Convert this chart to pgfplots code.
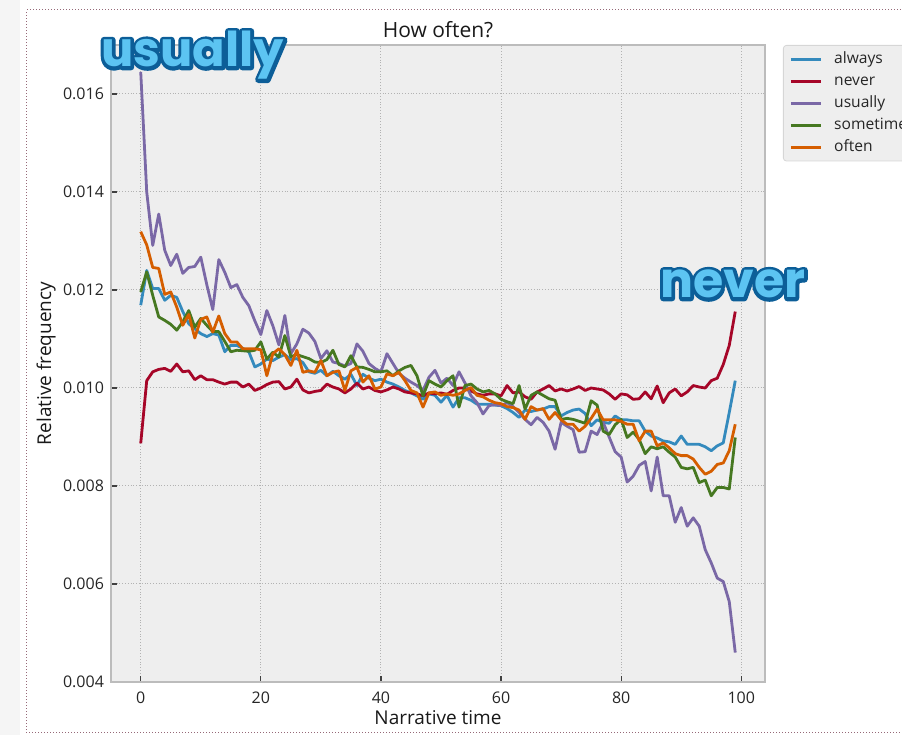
\documentclass[border=0pt]{standalone}
\usepackage{fontspec}
\setmainfont{Open Sans}
\newfontfamily\annfont{Poppins}
\usepackage{pgfplots}
\usepackage{pgfplotstable}
\pgfplotsset{compat=1.18}

% bmh palette
\definecolor{bmhblue}{HTML}{348ABD}
\definecolor{bmhred}{HTML}{A60628}
\definecolor{bmhpurple}{HTML}{7A68A6}
\definecolor{bmhgreen}{HTML}{467821}
\definecolor{bmhorange}{HTML}{D55E00}
\definecolor{bmhbg}{HTML}{EEEEEE}
\definecolor{bmhedge}{HTML}{BCBCBC}
\definecolor{bmhgrid}{HTML}{B2B2B2}
\definecolor{legbg}{HTML}{EEEEEE}
\definecolor{legedge}{HTML}{D6D6D6}
\definecolor{anndark}{RGB}{12,94,152}
\definecolor{annlight}{RGB}{92,196,242}
\definecolor{cellborder}{RGB}{150,105,120}

% outlined word: a thick dark stroked copy under a light filled copy
\newcommand\calloutword[1]{%
  \makebox[0pt][l]{\color{anndark}\special{pdf:literal direct 2 Tr 3.4 w 1 j}#1\special{pdf:literal direct 0 Tr}}%
  \textcolor{annlight}{#1}}

\pgfplotstableread{
x always never usually sometimes often
0 0.01169 0.00887 0.01645 0.01196 0.01319
1 0.01240 0.01015 0.01400 0.01237 0.01292
2 0.01203 0.01033 0.01291 0.01189 0.01246
3 0.01203 0.01038 0.01355 0.01145 0.01244
4 0.01179 0.01040 0.01281 0.01138 0.01191
5 0.01189 0.01034 0.01250 0.01130 0.01196
6 0.01185 0.01049 0.01273 0.01118 0.01165
7 0.01156 0.01033 0.01234 0.01135 0.01128
8 0.01131 0.01035 0.01246 0.01158 0.01150
9 0.01121 0.01017 0.01248 0.01124 0.01102
10 0.01111 0.01025 0.01267 0.01142 0.01140
11 0.01105 0.01017 0.01211 0.01128 0.01145
12 0.01111 0.01017 0.01160 0.01115 0.01114
13 0.01108 0.01012 0.01262 0.01115 0.01147
14 0.01074 0.01008 0.01236 0.01095 0.01111
15 0.01087 0.01012 0.01205 0.01074 0.01094
16 0.01087 0.01012 0.01211 0.01077 0.01094
17 0.01081 0.01002 0.01185 0.01076 0.01080
18 0.01074 0.01008 0.01168 0.01075 0.01080
19 0.01043 0.00995 0.01137 0.01077 0.01080
20 0.01049 0.01000 0.01109 0.01094 0.01078
21 0.01059 0.01007 0.01158 0.01059 0.01025
22 0.01056 0.01012 0.01127 0.01073 0.01070
23 0.01063 0.01013 0.01088 0.01063 0.01080
24 0.01068 0.00998 0.01148 0.01107 0.01068
25 0.01058 0.01002 0.01070 0.01064 0.01046
26 0.01060 0.01018 0.01090 0.01068 0.01077
27 0.01052 0.00996 0.01120 0.01064 0.01032
28 0.01033 0.00990 0.01112 0.01060 0.01035
29 0.01030 0.00993 0.01095 0.01053 0.01032
30 0.01036 0.00995 0.01060 0.01052 0.01056
31 0.01025 0.01008 0.01076 0.01058 0.01025
32 0.01034 0.01002 0.01053 0.01077 0.01032
33 0.01025 0.00998 0.01050 0.01048 0.01035
34 0.01018 0.00990 0.01045 0.01043 0.00995
35 0.01028 0.00998 0.01050 0.01066 0.01035
36 0.01005 0.01010 0.01090 0.01043 0.01042
37 0.01028 0.00998 0.01075 0.01042 0.01012
38 0.01020 0.01002 0.01050 0.01038 0.01025
39 0.01015 0.00995 0.01040 0.01033 0.00998
40 0.01018 0.00992 0.01033 0.01033 0.01002
41 0.01012 0.00996 0.01070 0.01035 0.01029
42 0.01008 0.01002 0.01050 0.01025 0.01025
43 0.01002 0.00998 0.01030 0.01035 0.01032
44 0.00995 0.00992 0.01020 0.01042 0.01015
45 0.00990 0.00990 0.01012 0.01046 0.00995
46 0.00984 0.00988 0.01005 0.01025 0.00990
47 0.00977 0.00984 0.00995 0.00984 0.00961
48 0.00988 0.00990 0.01022 0.01015 0.00990
49 0.00985 0.00988 0.01036 0.01008 0.00992
50 0.00971 0.00990 0.01010 0.01002 0.00985
51 0.00985 0.00987 0.01020 0.01015 0.00988
52 0.00961 0.00995 0.01005 0.01025 0.00985
53 0.00980 0.01000 0.01033 0.00961 0.00988
54 0.00980 0.01000 0.01010 0.01005 0.00995
55 0.00975 0.00994 0.00984 0.01008 0.01001
56 0.00967 0.00988 0.00970 0.00998 0.00985
57 0.00967 0.00985 0.00947 0.00992 0.00982
58 0.00967 0.00988 0.00964 0.00995 0.00975
59 0.00965 0.00988 0.00966 0.00988 0.00970
60 0.00964 0.00984 0.00964 0.00977 0.00968
61 0.00958 0.01005 0.00970 0.00972 0.00962
62 0.00950 0.00990 0.00962 0.00968 0.00960
63 0.00940 0.00992 0.00950 0.01005 0.00955
64 0.00955 0.00982 0.00936 0.00957 0.00936
65 0.00952 0.00977 0.00925 0.00985 0.00962
66 0.00955 0.00992 0.00940 0.00992 0.00955
67 0.00957 0.00998 0.00930 0.00985 0.00958
68 0.00962 0.01005 0.00912 0.00978 0.00936
69 0.00962 0.00994 0.00875 0.00975 0.00950
70 0.00943 0.00998 0.00930 0.00936 0.00935
71 0.00950 0.00994 0.00922 0.00938 0.00926
72 0.00955 0.00998 0.00915 0.00936 0.00926
73 0.00957 0.01003 0.00869 0.00932 0.00912
74 0.00948 0.00995 0.00870 0.00928 0.00922
75 0.00923 0.01000 0.00912 0.00974 0.00938
76 0.00935 0.00998 0.00905 0.00965 0.00957
77 0.00930 0.00996 0.00930 0.00912 0.00935
78 0.00928 0.00988 0.00900 0.00905 0.00935
79 0.00943 0.00977 0.00870 0.00925 0.00935
80 0.00935 0.00988 0.00859 0.00936 0.00932
81 0.00935 0.00986 0.00808 0.00899 0.00926
82 0.00933 0.00977 0.00820 0.00910 0.00926
83 0.00933 0.00978 0.00842 0.00895 0.00892
84 0.00912 0.00992 0.00850 0.00866 0.00912
85 0.00902 0.00978 0.00790 0.00880 0.00912
86 0.00898 0.01004 0.00859 0.00876 0.00882
87 0.00892 0.00970 0.00780 0.00880 0.00888
88 0.00890 0.00990 0.00780 0.00869 0.00878
89 0.00885 0.00998 0.00726 0.00859 0.00866
90 0.00902 0.00984 0.00756 0.00838 0.00862
91 0.00885 0.00992 0.00718 0.00835 0.00862
92 0.00885 0.01005 0.00735 0.00838 0.00855
93 0.00885 0.01002 0.00718 0.00807 0.00838
94 0.00880 0.01000 0.00670 0.00812 0.00824
95 0.00872 0.01015 0.00643 0.00780 0.00830
96 0.00882 0.01020 0.00612 0.00797 0.00844
97 0.00888 0.01048 0.00605 0.00797 0.00847
98 0.00950 0.01087 0.00564 0.00794 0.00872
99 0.01015 0.01156 0.00460 0.00899 0.00926
}\freqtable

\begin{document}
\begin{tikzpicture}
% page = the screenshot; the legend runs past its right edge
\useasboundingbox (-55.5pt,-26.5pt) rectangle (395.5pt,341pt);
\clip (-55.5pt,-26.5pt) rectangle (395.5pt,341pt);
\fill[black!4] (-55.5pt,-26.5pt) rectangle (-45.5pt,341pt);
\draw[cellborder, densely dotted, line width=0.5pt] (-42pt,-25.5pt) rectangle (420pt,336pt);

\begin{axis}[
  scale only axis,
  width=327pt, height=318.5pt,
  xmin=-4.95, xmax=103.95,
  ymin=0.0040, ymax=0.0170,
  axis background/.style={fill=bmhbg},
  axis line style={draw=bmhedge, line width=0.6pt},
  grid=major,
  major grid style={densely dotted, draw=bmhgrid, line width=0.5pt},
  tick align=inside, tick pos=left,
  major tick length=3pt,
  tick style={color=black!75, line width=0.6pt},
  xtick={0,20,40,60,80,100},
  ytick={0.004,0.006,0.008,0.010,0.012,0.014,0.016},
  scaled y ticks=false,
  /pgf/number format/assume math mode=true,
  yticklabel style={/pgf/number format/fixed, /pgf/number format/fixed zerofill, /pgf/number format/precision=3},
  xticklabel style={yshift=-1.3pt},
  ticklabel style={font=\fontsize{8}{9.6}\selectfont, text=black!85},
  title={How often?},
  every axis title/.style={at={(axis description cs:0.5,1)}, anchor=base, yshift=3.5pt, font=\fontsize{10.5}{12}\selectfont, text=black!90},
  xlabel={Narrative time},
  ylabel={Relative frequency},
  every axis x label/.style={at={(axis description cs:0.5,0)}, anchor=base, yshift=-21.5pt, font=\fontsize{9.5}{11}\selectfont, text=black!90},
  every axis y label/.style={at={(axis description cs:-0.0917,0.5)}, anchor=base, rotate=90, font=\fontsize{9.5}{11}\selectfont, text=black!90},
  legend style={at={(1,1)}, anchor=north west, xshift=9pt,
    fill=legbg, draw=legedge, rounded corners=1.5pt,
    font=\fontsize{7.8}{9}\selectfont, text=black!85,
    inner xsep=3pt, inner ysep=3pt, row sep=3.2pt,
    nodes={inner sep=0pt, text height=5.9pt, text depth=1.9pt},
    cells={anchor=west},
    /tikz/every odd column/.append style={column sep=6pt}},
  legend image code/.code={\draw[#1] (0pt,0pt) -- (15pt,0pt);},
  every axis plot/.append style={line width=1.4pt, line join=round},
]
\addplot[bmhblue] table[x=x, y=always] {\freqtable};
\addplot[bmhred] table[x=x, y=never] {\freqtable};
\addplot[bmhpurple] table[x=x, y=usually] {\freqtable};
\addplot[bmhgreen] table[x=x, y=sometimes] {\freqtable};
\addplot[bmhorange] table[x=x, y=often] {\freqtable};
\legend{always, never, usually, sometimes, often}
\end{axis}

% the two call-outs pasted on the screenshot
\node[anchor=base west, inner sep=0pt] at (-5pt,307.5pt)
  {\annfont\bfseries\fontsize{24}{29}\selectfont\calloutword{usually}};
\node[anchor=base west, inner sep=0pt] at (274.5pt,192pt)
  {\annfont\bfseries\fontsize{24.5}{29}\selectfont\calloutword{never}};
\end{tikzpicture}
\end{document}
